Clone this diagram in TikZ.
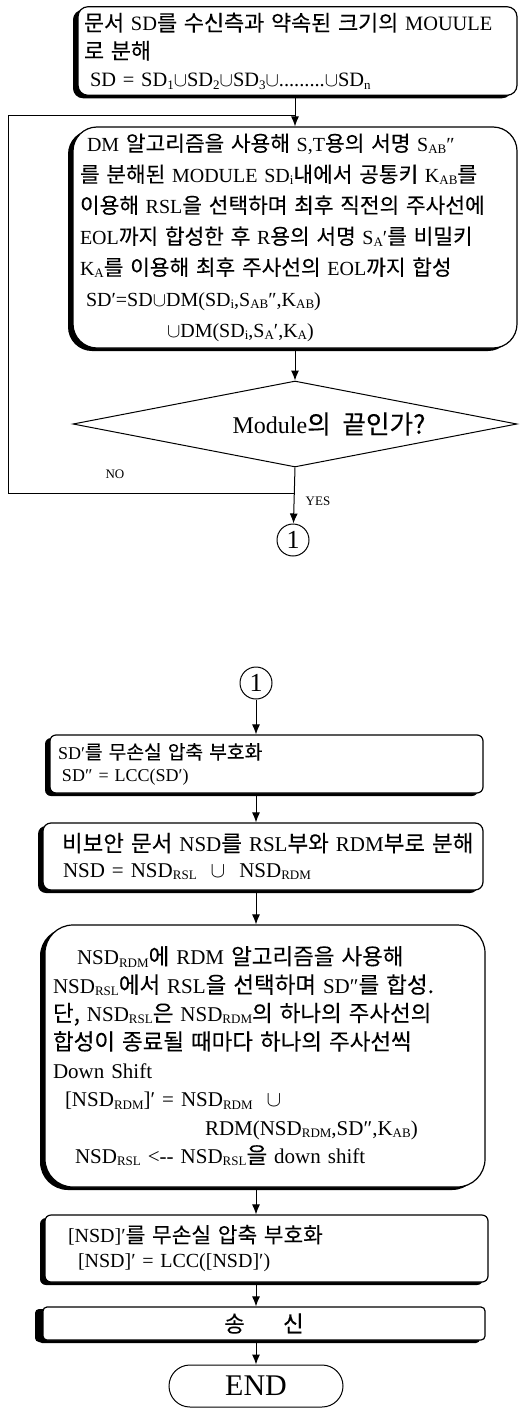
\documentclass[tikz,border=0pt]{standalone}
\usepackage{fontspec}
\setmainfont{Liberation Serif}
\newfontfamily\kr[Scale=1.07, WordSpace=2, FakeBold=0.15]{Noto Sans CJK KR}
\usetikzlibrary{shapes,arrows.meta,positioning,calc,shadows}

\newcommand\ko[1]{{\kr #1}}
\newcommand\lo[1]{\raisebox{-0.25ex}{\fontsize{6.5}{7}\selectfont #1}}
\newcommand\ind[1]{\hspace*{#1}}

\tikzset{
  box/.style={draw, line width=0.6pt, fill=white, align=left, inner xsep=2pt, inner ysep=3pt,
    general shadow={fill=black, shadow xshift=-2.5pt, shadow yshift=-1.5pt}},
  dia/.style={draw, diamond, aspect=5, inner sep=0pt, line width=0.5pt,
    minimum width=222pt, minimum height=43pt, font=\fontsize{12}{14}\selectfont},
  conn/.style={draw, circle, inner sep=0pt, minimum size=16pt, line width=0.5pt,
    font=\fontsize{13}{14}\selectfont},
  arr/.style={-{Latex[length=5pt,width=4pt]}, line width=0.5pt},
  line/.style={line width=0.5pt},
  lbl/.style={font=\fontsize{6.5}{7}\selectfont, inner sep=1pt}
}

\begin{document}
\begin{tikzpicture}[x=0.5pt,y=-0.5pt]
\useasboundingbox (0,0) rectangle (520,1408);

% upper part: module split and DM loop
\node[box, rounded corners=5pt, minimum width=219.5pt, minimum height=44pt, text width=215.5pt,
  font=\fontsize{10.2}{14}\selectfont] (split) at (297.5,51)
  {\mbox{\ind{1pt}\ko{문서} SD\ko{를 수신측과 약속된 크기의} MOUULE}\\
   \mbox{\ind{1pt}\ko{로 분해}}\\
   \mbox{\ind{4pt}SD = SD\lo{1}$\cup$SD\lo{2}$\cup$SD\lo{3}$\cup$.........$\cup$SD\lo{n}}};

\node[box, rounded corners=12pt, minimum width=222pt, minimum height=110.5pt, text width=218pt,
  font=\fontsize{10}{15.5}\selectfont] (dmsyn) at (295,237.5)
  {\mbox{\ind{5pt}DM \ko{알고리즘을 사용해} S,T\ko{용의 서명} S\lo{AB}″}\\
   \mbox{\ind{1.5pt}\ko{를 분해된} MODULE SD\lo{i}\ko{내에서 공통키} K\lo{AB}\ko{를}}\\
   \mbox{\ind{1.5pt}\ko{이용해} RSL\ko{을 선택하며 최후 직전의 주사선에}}\\
   \mbox{\ind{1.5pt}EOL\ko{까지 합성한 후} R\ko{용의 서명} S\lo{A}′\ko{를 비밀키}}\\
   \mbox{\ind{1.5pt}K\lo{A}\ko{를 이용해 최후 주사선의} EOL\ko{까지 합성}}\\
   \mbox{\ind{4.5pt}SD′=SD$\cup$DM(SD\lo{i},S\lo{AB}″,K\lo{AB})}\\
   \mbox{\ind{45pt}$\cup$DM(SD\lo{i},S\lo{A}′,K\lo{A})}};

\node[dia] (test) at (295,424) {\hspace*{34pt}Module\ko{의 끝인가?}};
\node[conn] (c1) at (293,540) {1};

\coordinate (join) at ($(test.south)+(0,26)$);
\coordinate (back) at (8,115);

\draw[arr] (dmsyn.north |- split.south) -- (dmsyn.north);
\draw[arr] (dmsyn) -- (test);
\draw[arr] (test.south) -- (c1);
\draw[line] (join) -| (back) -- (back -| dmsyn.north);
\node[lbl] (no) at (115,474) {NO};
\node[lbl] (yes) at (318,501) {YES};

% lower part: compression and RDM synthesis
\node[conn] (c2) at (256,683) {1};

\node[box, rounded corners=3pt, minimum width=216.5pt, minimum height=29pt, text width=212.5pt,
  font=\fontsize{9}{11}\selectfont] (enc) at (266.5,764)
  {\mbox{\ind{2pt}SD′\ko{를 무손실 압축 부호화}}\\
   \mbox{\ind{4pt}SD″ = LCC(SD′)}};

\node[box, rounded corners=4pt, minimum width=220pt, minimum height=33.5pt, text width=216pt,
  font=\fontsize{10.5}{13}\selectfont] (part) at (263,856.5)
  {\mbox{\ind{7.5pt}\ko{비보안 문서} NSD\ko{를} RSL\ko{부와} RDM\ko{부로 분해}}\\
   \mbox{\ind{8pt}NSD = NSD\lo{RSL}\ \ $\cup$\ \ NSD\lo{RDM}}};

\node[box, rounded corners=14pt, minimum width=220pt, minimum height=131pt, text width=216pt,
  font=\fontsize{10.5}{14.2}\selectfont] (rdm) at (265,1056)
  {\mbox{\ind{14pt}NSD\lo{RDM}\ko{에} RDM \ko{알고리즘을 사용해}}\\
   \mbox{\ind{2pt}NSD\lo{RSL}\ko{에서} RSL\ko{을 선택하며} SD″\ko{를 합성.}}\\
   \mbox{\ind{2pt}\ko{단,} NSD\lo{RSL}\ko{은} NSD\lo{RDM}\ko{의 하나의 주사선의}}\\
   \mbox{\ind{2pt}\ko{합성이 종료될 때마다 하나의 주사선씩}}\\
   \mbox{\ind{2pt}Down Shift}\\
   \mbox{\ind{8pt}[NSD\lo{RDM}]′ = NSD\lo{RDM}\ \ $\cup$}\\
   \mbox{\ind{78pt}RDM(NSD\lo{RDM},SD″,K\lo{AB})}\\
   \mbox{\ind{13pt}NSD\lo{RSL} <{-}{-} NSD\lo{RSL}\ko{을} down shift}};

\node[box, rounded corners=3pt, minimum width=221.5pt, minimum height=33.5pt, text width=217.5pt,
  font=\fontsize{10}{12.5}\selectfont] (enc2) at (266.5,1248.5)
  {\mbox{\ind{9.5pt}[NSD]′\ko{를 무손실 압축 부호화}}\\
   \mbox{\ind{14.5pt}[NSD]′ = LCC([NSD]′)}};

\node[box, rounded corners=2pt, minimum width=221pt, minimum height=16.5pt, text width=217pt,
  align=center, general shadow={fill=black, shadow xshift=-4pt, shadow yshift=-1pt},
  font=\fontsize{10.5}{12}\selectfont] (send) at (264,1323.5) {\ko{송\hspace{1.7em}신}\hspace*{14pt}};

\node[draw, line width=0.5pt, rounded corners=10.5pt, minimum width=87pt, minimum height=21pt,
  font=\fontsize{15}{16}\selectfont] (stop) at (256,1386) {END};

\draw[arr] (c2) -- (c2 |- enc.north);
\draw[arr] (enc.south -| c2) -- (part.north -| c2);
\draw[arr] (part.south -| c2) -- (rdm.north -| c2);
\draw[arr] (rdm.south -| c2) -- (enc2.north -| c2);
\draw[arr] (enc2.south -| c2) -- (send.north -| c2);
\draw[arr] (send.south -| c2) -- (stop);
\end{tikzpicture}
\end{document}
